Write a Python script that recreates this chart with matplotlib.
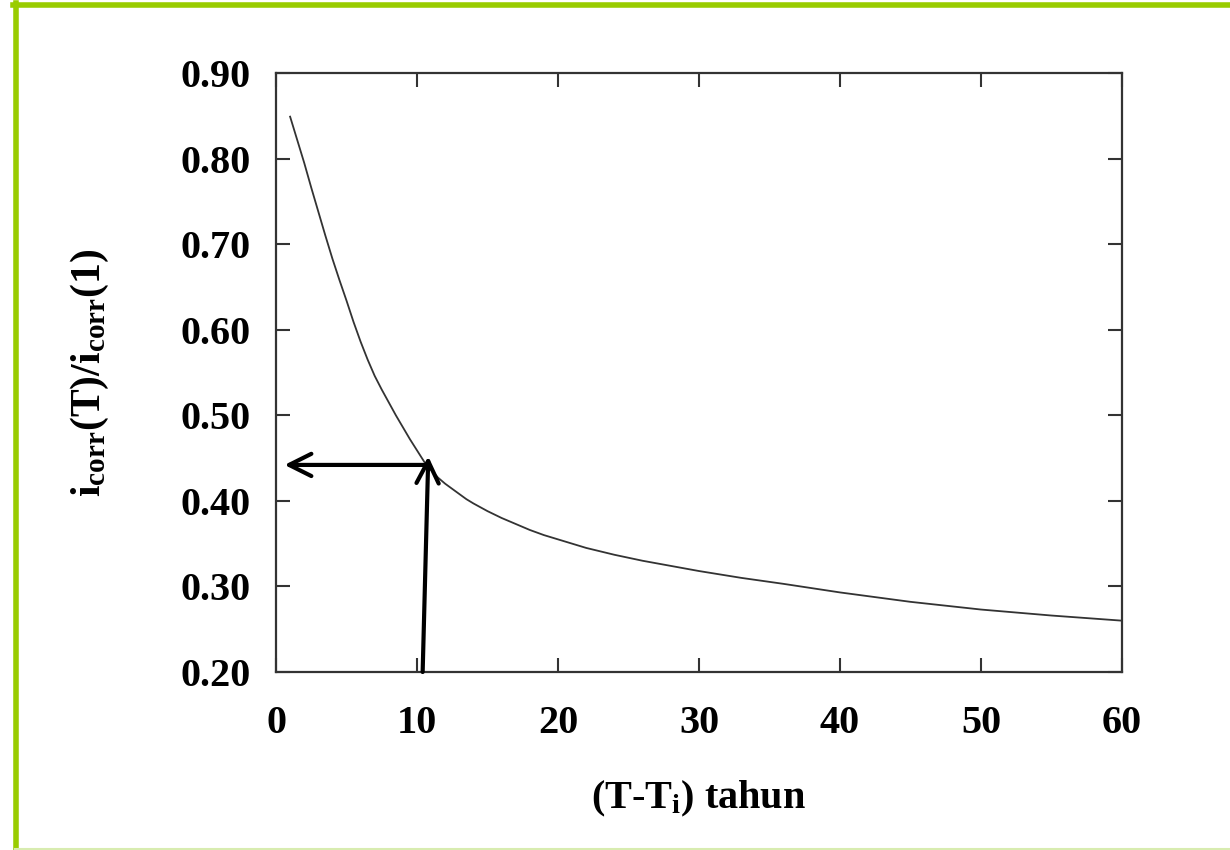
import matplotlib
matplotlib.use("Agg")
import matplotlib.pyplot as plt
from matplotlib.lines import Line2D

# curve
years = [1, 1.5, 2, 2.5, 3, 3.5, 4, 4.5, 5, 5.5, 6, 6.5, 7, 7.5, 8, 8.5, 9,
         9.5, 10, 10.5, 11, 11.5, 12, 12.5, 13, 13.5, 14, 15, 16, 17, 18, 19,
         20, 22, 24, 26, 28, 30, 33, 36, 40, 45, 50, 55, 60]
ratio = [0.849, 0.822, 0.795, 0.766, 0.738, 0.710, 0.683, 0.658, 0.634,
         0.609, 0.586, 0.565, 0.546, 0.530, 0.515, 0.500, 0.486, 0.472,
         0.459, 0.446, 0.436, 0.427, 0.420, 0.414, 0.408, 0.402, 0.397,
         0.388, 0.380, 0.373, 0.366, 0.360, 0.355, 0.345, 0.337, 0.330,
         0.324, 0.318, 0.310, 0.303, 0.293, 0.282, 0.273, 0.266, 0.260]

x_ticks = [0, 10, 20, 30, 40, 50, 60]
y_ticks = [0.20, 0.30, 0.40, 0.50, 0.60, 0.70, 0.80, 0.90]

# reading arrows: up from x axis to the curve, then left to the y axis
up_from = (10.4, 0.20)
up_to = (10.8, 0.452)
left_from = (10.6, 0.442)
left_to = (0.6, 0.442)

plt.rcParams["font.family"] = "Liberation Serif"
plt.rcParams["font.weight"] = "bold"
plt.rcParams["axes.labelweight"] = "bold"
plt.rcParams["mathtext.fontset"] = "custom"
plt.rcParams["mathtext.rm"] = "Liberation Serif:bold"
plt.rcParams["mathtext.bf"] = "Liberation Serif:bold"
plt.rcParams["mathtext.it"] = "Liberation Serif:bold"

fig = plt.figure(figsize=(12.3, 8.5), dpi=100)
ax = fig.add_axes([0.2244, 0.2094, 0.6878, 0.7047])

ax.plot(years, ratio, color="#333333", linewidth=1.3)

ax.set_xlim(0, 60)
ax.set_ylim(0.20, 0.90)
ax.set_xticks(x_ticks)
ax.set_yticks(y_ticks)
ax.set_xticklabels([str(t) for t in x_ticks])
ax.set_yticklabels(["%.2f" % t for t in y_ticks])
ax.tick_params(axis="both", direction="in", top=True, right=True,
               length=10, width=1.5, color="#333333", labelsize=29)
ax.tick_params(axis="x", pad=24)
ax.tick_params(axis="y", pad=18)
for s in ax.spines.values():
    s.set_linewidth(1.6)
    s.set_color("#333333")

ax.set_xlabel(r"(T-T$_\mathrm{i}$) tahun", fontsize=29, labelpad=26)
ax.set_ylabel(r"i$_\mathrm{corr}$(T)/i$_\mathrm{corr}$(1)", fontsize=30, labelpad=50)

arrow = dict(arrowstyle="->, head_length=0.8, head_width=0.4", lw=3,
             color="black", mutation_scale=20, shrinkA=0, shrinkB=0)
ax.annotate("", xy=up_to, xytext=up_from, arrowprops=arrow)
ax.annotate("", xy=left_to, xytext=left_from, arrowprops=arrow)

# green frame of the slide
green = "#99cc00"
fig.add_artist(Line2D([13 / 1230, 1], [1 - 5 / 850, 1 - 5 / 850],
                      color=green, linewidth=4, transform=fig.transFigure))
fig.add_artist(Line2D([15.5 / 1230, 15.5 / 1230], [0, 1 - 3 / 850],
                      color=green, linewidth=4, transform=fig.transFigure))
fig.add_artist(Line2D([15 / 1230, 1], [1.5 / 850, 1.5 / 850],
                      color="#d8ecb0", linewidth=1.5, transform=fig.transFigure))

fig.savefig("out.png", dpi=100)
